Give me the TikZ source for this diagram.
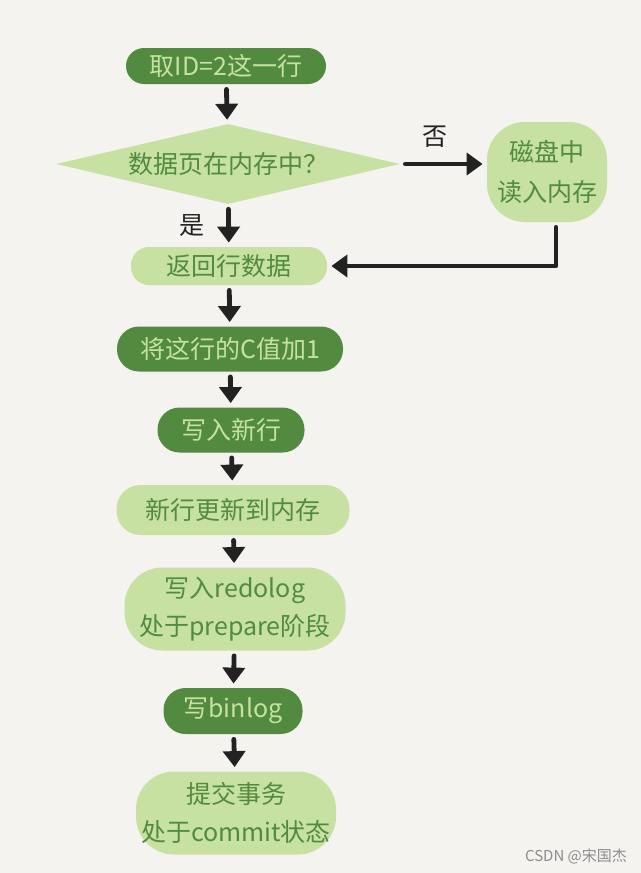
\documentclass[tikz,border=0pt]{standalone}
\usepackage{fontspec}
\setmainfont{Noto Sans CJK SC}
\usepackage{tikz}
\usetikzlibrary{arrows.meta}
\usetikzlibrary{shapes.geometric}
\definecolor{paper}{HTML}{F4F3EF}
\definecolor{darkleaf}{HTML}{528B3F}
\definecolor{lightleaf}{HTML}{C6E1A1}
\definecolor{ink}{HTML}{222222}

\begin{document}
\begin{tikzpicture}[x=0.5pt, y=-0.5pt, line cap=round, line join=round,
    >={Triangle[length=8pt, width=11pt]},
    txt/.style={font=\fontsize{12.5pt}{19pt}\selectfont, align=center, inner sep=0pt},
    darkpill/.style={txt, rectangle, rounded corners=11pt, fill=darkleaf, text=lightleaf},
    lightpill/.style={txt, rectangle, rounded corners=9pt, fill=lightleaf, text=darkleaf},
    lightblob/.style={txt, rectangle, rounded corners=19pt, fill=lightleaf, text=darkleaf},
    flow/.style={->, draw=ink, line width=2.4pt, shorten >=2pt, shorten <=2.5pt}]
  %--- paper
    \fill[paper] (0, 0) rectangle (641, 873) ;
  %--- steps
    \node[darkpill, rounded corners=9pt, minimum width=100pt, minimum height=18pt] (take) at (226, 66) {取ID=2这一行};
    \node[txt, diamond, aspect=4.3, fill=lightleaf, text=darkleaf,
          minimum width=172pt, minimum height=40pt] (page) at (228, 164) {数据页在内存中？};
    \node[lightblob, minimum width=60pt, minimum height=50pt, font=\fontsize{12.5pt}{20pt}\selectfont] (disk) at (547, 172) {磁盘中\\读入内存};
    \node[lightpill, minimum width=98pt, minimum height=19pt] (ret) at (229, 266) {返回行数据};
    \node[darkpill, minimum width=113pt, minimum height=22.5pt] (inc) at (230, 349) {将这行的C值加1};
    \node[darkpill, minimum width=73.5pt, minimum height=22.5pt] (new) at (231, 430) {写入新行};
    \node[lightpill, rounded corners=12pt, minimum width=116.5pt, minimum height=25pt] (mem) at (233, 510) {新行更新到内存};
    \node[lightblob, minimum width=110.5pt, minimum height=41.5pt] (redo) at (235, 609) {写入redolog\\处于prepare阶段};
    \node[darkpill, minimum width=69.5pt, minimum height=23pt] (bin) at (233, 711) {写binlog};
    \node[lightblob, minimum width=100pt, minimum height=41.5pt] (commit) at (236, 813) {提交事务\\处于commit状态};
  %--- arrows
    \draw[flow] (take) -- (page) ;
    \draw[flow] (page) -- node[left=11pt, text=ink, txt] {是} (ret) ;
    \draw[flow] (page.east) -- node[pos=0.4, above=7pt, text=ink, txt] {否} (disk.west |- page.east) ;
    \draw[flow] ([xshift=4.5pt]disk.south) |- (ret.east) ;
    \draw[flow] (ret) -- (inc) ;
    \draw[flow] (inc) -- (new) ;
    \draw[flow] (new) -- (mem) ;
    \draw[flow] (mem) -- (redo) ;
    \draw[flow] (redo) -- (bin) ;
    \draw[flow] (bin) -- (commit) ;
  %--- watermark
    \node[text=black!45, font=\fontsize{7.5pt}{9pt}\selectfont] (mark) at (576, 856) {CSDN @宋国杰};
\end{tikzpicture}
\end{document}
